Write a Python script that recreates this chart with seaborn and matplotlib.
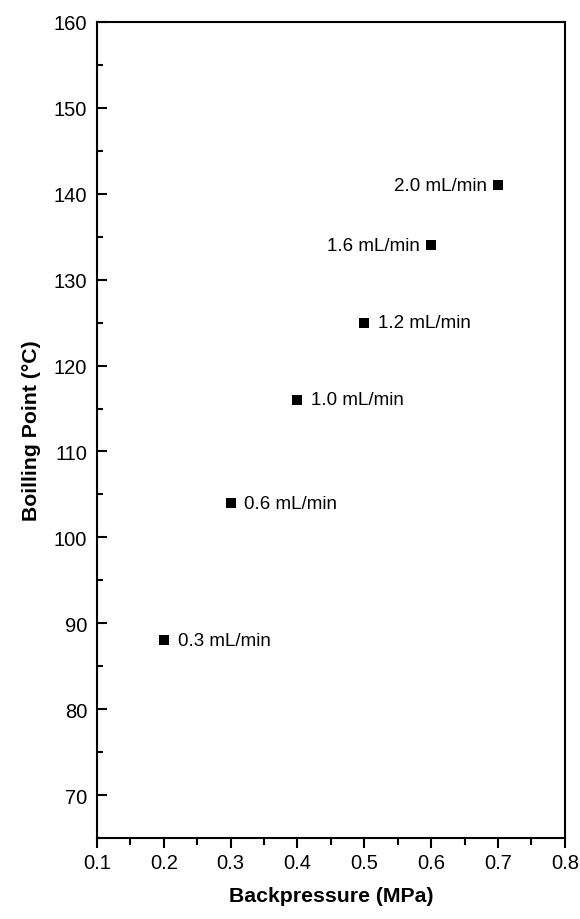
import matplotlib
matplotlib.use("Agg")
import matplotlib.pyplot as plt
import seaborn as sns
import pandas as pd
from matplotlib.ticker import MultipleLocator

backpressure = [0.2, 0.3, 0.4, 0.5, 0.6, 0.7]
boiling_point = [88, 104, 116, 125, 134, 141]
flow_labels = ["0.3 mL/min", "0.6 mL/min", "1.0 mL/min", "1.2 mL/min", "1.6 mL/min", "2.0 mL/min"]
label_side = ["right", "right", "right", "right", "left", "left"]

df = pd.DataFrame({"x": backpressure, "y": boiling_point, "label": flow_labels, "side": label_side})

sns.set_theme(style="ticks")
plt.rcParams['font.family'] = ['Liberation Sans', 'DejaVu Sans']
plt.rcParams['text.color'] = 'black'
plt.rcParams['axes.labelcolor'] = 'black'
plt.rcParams['xtick.color'] = 'black'
plt.rcParams['ytick.color'] = 'black'

fig = plt.figure(figsize=(5.8, 9.2), dpi=100)
ax = fig.add_axes([0.167, 0.088, 0.807, 0.887])

sns.scatterplot(data=df, x="x", y="y", marker="s", s=45, color="black",
                edgecolor="black", linewidth=0, ax=ax, legend=False)

for _, r in df.iterrows():
    if r["side"] == "right":
        ax.annotate(r["label"], (r["x"], r["y"]), xytext=(10, 0), textcoords="offset points",
                    ha="left", va="center", fontsize=13.5, color="black")
    else:
        ax.annotate(r["label"], (r["x"], r["y"]), xytext=(-8, 0), textcoords="offset points",
                    ha="right", va="center", fontsize=13.5, color="black")

ax.set_xlim(0.1, 0.8)
ax.set_ylim(65, 160)
ax.xaxis.set_minor_locator(MultipleLocator(0.05))
ax.yaxis.set_minor_locator(MultipleLocator(5))
ax.set_yticks(range(70, 161, 10))
ax.set_xticks([0.1, 0.2, 0.3, 0.4, 0.5, 0.6, 0.7, 0.8])
ax.set_xticklabels(["0.1", "0.2", "0.3", "0.4", "0.5", "0.6", "0.7", "0.8"])

for s in ax.spines.values():
    s.set_visible(True)
    s.set_linewidth(1.5)
    s.set_color("black")

ax.tick_params(axis="x", which="major", direction="out", length=7, width=1.5, labelsize=14.5, pad=4, colors="black")
ax.tick_params(axis="x", which="minor", direction="out", length=5, width=1.5)
ax.tick_params(axis="y", which="major", direction="in", length=7, width=1.5, labelsize=14.5, pad=7, colors="black")
ax.tick_params(axis="y", which="minor", direction="in", length=4, width=1.5)

ax.set_xlabel("Backpressure (MPa)", fontsize=15.3, fontweight="bold", labelpad=10)
ax.set_ylabel("Boilling Point (°C)", fontsize=15.3, fontweight="bold", labelpad=9)

fig.savefig("out.png", dpi=100)
